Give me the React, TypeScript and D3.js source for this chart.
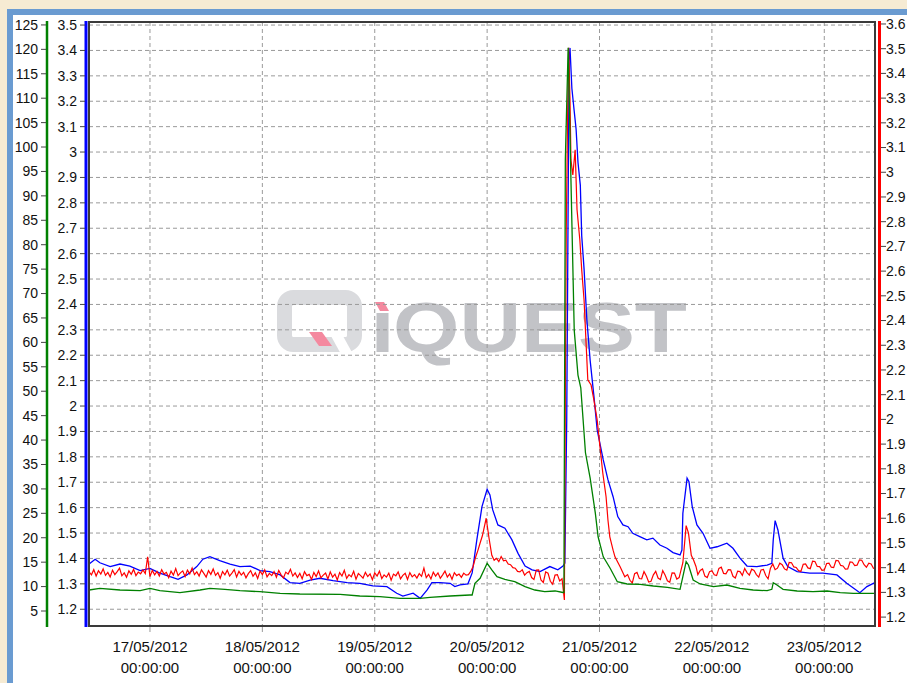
import React from "react";
import * as d3 from "d3";

// time is in hours from 17/05/2012 00:00
const blueSeries: [number, number][] = [
  [-13, 1.378], [-11.7, 1.397], [-10.7, 1.383], [-8.5, 1.368], [-6.4, 1.378], [-4.3, 1.37],
  [-2.1, 1.352], [0, 1.361], [2.1, 1.342], [4.3, 1.328], [6, 1.318], [7.9, 1.335],
  [10, 1.368], [11.3, 1.397], [12.8, 1.407], [14.9, 1.391], [17.1, 1.378], [19.2, 1.368],
  [21.4, 1.37], [23.5, 1.352], [25.6, 1.348], [27.8, 1.335], [29.9, 1.305], [32, 1.302],
  [34.2, 1.315], [36.3, 1.322], [39.1, 1.313], [42.1, 1.305], [44.8, 1.302], [47.6, 1.292],
  [50.6, 1.289], [52.7, 1.263], [54, 1.252], [56.2, 1.263], [57.7, 1.243], [59.2, 1.276],
  [60.2, 1.305], [61.9, 1.305], [64.1, 1.302], [65.1, 1.289], [66.2, 1.296], [67.9, 1.3],
  [68.8, 1.343], [69, 1.368], [69.8, 1.473], [70.9, 1.604], [72, 1.672], [72.6, 1.65],
  [73.2, 1.591], [74.3, 1.532], [75.8, 1.519], [77.3, 1.473], [78.6, 1.42], [80.1, 1.37],
  [81.6, 1.355], [83.3, 1.348], [85.4, 1.368], [87.1, 1.355], [88.2, 1.37], [88.6, 1.382],
  [89, 1.945], [89.5, 3.36], [89.7, 3.41], [90.1, 3.25], [90.6, 3.16], [91, 3.09],
  [91.4, 2.96], [91.9, 2.87], [92.2, 2.67], [92.7, 2.54], [93.3, 2.34], [94, 2.18],
  [94.8, 2.04], [95.5, 1.906], [96.8, 1.788], [97.8, 1.71], [98.9, 1.643], [99.9, 1.565],
  [101, 1.532], [102.1, 1.525], [103.1, 1.499], [104.6, 1.486], [106.1, 1.473], [107.4, 1.48],
  [108.9, 1.453], [110.4, 1.44], [111.7, 1.423], [113.2, 1.414], [113.6, 1.433], [113.8, 1.578],
  [114.7, 1.716], [115.1, 1.702], [115.8, 1.604], [116.8, 1.532], [118.1, 1.499], [119.6, 1.44],
  [121.1, 1.446], [123.2, 1.46], [124.5, 1.44], [126, 1.401], [127.5, 1.37], [129.6, 1.368],
  [131.8, 1.374], [132.8, 1.381], [133.1, 1.473], [133.5, 1.549], [134.1, 1.512], [135.2, 1.401],
  [136.2, 1.368], [138.2, 1.348], [140.9, 1.342], [143.7, 1.342], [146.7, 1.335], [148.8, 1.302],
  [151.6, 1.265], [153.1, 1.289], [154.8, 1.305],
];

const greenSeries: [number, number][] = [
  [-13, 9.3], [-10.7, 9.65], [-6.4, 9.3], [-2.1, 9.16], [0, 9.65], [2.1, 9.16],
  [6.4, 8.75], [10.7, 9.3], [12.8, 9.65], [16, 9.44], [19.2, 9.16], [23.5, 8.95],
  [27.8, 8.62], [32, 8.48], [40.6, 8.42], [44.8, 8.07], [49.1, 7.93], [53.4, 7.6],
  [57.7, 7.6], [59.8, 7.81], [64.1, 8.07], [68.3, 8.28], [68.8, 8.28], [69.4, 10.67],
  [70.5, 11.7], [72, 14.77], [73, 13.4], [74.1, 12.02], [75.8, 11.49], [77.9, 11],
  [80.1, 9.98], [82.2, 9.3], [84.3, 8.95], [86.5, 9.1], [88.2, 8.79], [88.4, 8.79],
  [88.7, 97.4], [89.3, 120.3], [89.9, 93.3], [90.6, 62.5], [91.4, 53.3], [92, 50.7],
  [92.5, 44.1], [93, 37.4], [94, 32.2], [95.1, 25.1], [95.7, 20.2], [96.8, 16.1],
  [98.3, 13.7], [99.8, 11], [101.9, 10.53], [104.7, 10.47], [107.5, 10.12], [110.5, 9.85],
  [113.2, 9.44], [113.8, 12.02], [114.5, 15.1], [115, 14.42], [116, 11.35], [117.5, 10.53],
  [120.3, 9.98], [123.2, 10.32], [126, 9.65], [128.8, 9.3], [131.8, 9.16], [132.8, 9.44],
  [133.1, 10.8], [133.9, 10.32], [135.2, 9.44], [138.2, 9.1], [141.6, 8.95], [144.6, 9.1],
  [147.4, 8.75], [150.2, 8.62], [154.8, 8.62],
];

// red is sampled every half hour on its quiet stretches
const redStep = 0.5;
const redEarlyStart = -13;
const redEarly = [
  1.383, 1.371, 1.392, 1.366, 1.388, 1.374, 1.395, 1.369, 1.381, 1.362,
  1.39, 1.372, 1.384, 1.398, 1.367, 1.379, 1.361, 1.387, 1.373, 1.393,
  1.368, 1.382, 1.375, 1.391, 1.376, 1.444, 1.364, 1.389, 1.371, 1.385,
  1.366, 1.392, 1.374, 1.381, 1.36, 1.386, 1.37, 1.396, 1.368, 1.379,
  1.387, 1.364, 1.39, 1.375, 1.399, 1.372, 1.383, 1.366, 1.391, 1.377,
  1.362, 1.388, 1.373, 1.395, 1.369, 1.38, 1.357, 1.384, 1.371, 1.39,
  1.366, 1.378, 1.392, 1.362, 1.385, 1.37, 1.381, 1.359, 1.376, 1.388,
  1.365, 1.379, 1.356, 1.386, 1.372, 1.391, 1.363, 1.377, 1.368, 1.384,
  1.361, 1.389, 1.371, 1.358, 1.382, 1.374, 1.393, 1.366, 1.379, 1.36,
  1.377, 1.355, 1.384, 1.368, 1.373, 1.352, 1.381, 1.364, 1.387, 1.359,
  1.37, 1.378, 1.354, 1.383, 1.362, 1.374, 1.35, 1.38, 1.366, 1.389,
  1.357, 1.372, 1.363, 1.385, 1.353, 1.376, 1.368, 1.358, 1.381, 1.364,
  1.375, 1.351, 1.379, 1.366, 1.386, 1.356, 1.371, 1.362, 1.378, 1.349,
  1.374, 1.367, 1.383, 1.355, 1.369, 1.377, 1.352, 1.38, 1.363, 1.372,
  1.358, 1.376, 1.365, 1.398, 1.36, 1.373, 1.354, 1.382, 1.366, 1.379,
  1.357, 1.371, 1.386, 1.362, 1.375, 1.353, 1.38, 1.368, 1.374, 1.361,
  1.378, 1.37,
];
const redPeaks: [number, number][] = [
  [68, 1.372], [68.5, 1.385], [69, 1.405], [69.5, 1.44], [70, 1.468], [70.5, 1.5], [71, 1.53],
  [71.8, 1.6], [72.4, 1.52], [73, 1.45], [73.5, 1.43], [74, 1.438], [74.5, 1.425], [75, 1.445],
  [75.5, 1.428], [76, 1.43], [76.5, 1.415], [77, 1.412], [77.5, 1.4], [78, 1.398], [78.5, 1.385],
  [79, 1.383], [79.5, 1.392], [80, 1.37], [80.5, 1.38], [81, 1.385], [81.5, 1.36], [82, 1.352],
  [82.5, 1.39], [83, 1.391], [83.5, 1.35], [84, 1.34], [84.5, 1.383], [85, 1.378], [85.5, 1.345],
  [86, 1.333], [86.5, 1.37], [87, 1.372], [87.5, 1.346], [88, 1.355], [88.5, 1.269], [88.7, 2.079],
  [88.9, 2.767], [89.2, 3.253], [89.4, 3.504], [89.7, 3.293], [89.9, 3.05], [90.3, 2.989],
  [90.8, 3.091], [91.2, 2.848], [91.8, 2.726], [92.2, 2.605], [92.7, 2.483], [93.1, 2.321],
  [93.5, 2.16], [94.2, 2.139], [94.8, 2.079], [95.5, 1.998], [96.1, 1.889], [96.7, 1.783],
  [97.4, 1.687], [97.8, 1.593], [98.2, 1.525], [98.9, 1.471], [99.3, 1.444], [100.4, 1.404],
  [101.4, 1.363],
];
const redMidStart = 102;
const redMid = [
  1.372, 1.349, 1.338, 1.376, 1.381, 1.356, 1.355, 1.384, 1.366, 1.342, 1.345, 1.371,
  1.385, 1.358, 1.352, 1.388, 1.37, 1.347, 1.341, 1.379, 1.378, 1.354, 1.36,
];
const redPeak22: [number, number][] = [
  [113.8, 1.42], [114.5, 1.57], [115, 1.54], [115.6, 1.45], [116.1, 1.43], [116.6, 1.405],
];
const redLateStart = 117;
const redLate = [
  1.372, 1.389, 1.395, 1.366, 1.36, 1.384, 1.388, 1.371, 1.368, 1.397,
  1.402, 1.377, 1.375, 1.392, 1.391, 1.365, 1.358, 1.386, 1.384, 1.369,
  1.397, 1.38, 1.37, 1.394, 1.389, 1.372, 1.362, 1.391, 1.393, 1.368,
  1.355, 1.398, 1.415, 1.392, 1.398, 1.418, 1.412, 1.395, 1.39, 1.421,
  1.42, 1.403, 1.401, 1.388, 1.385, 1.414, 1.415, 1.399, 1.396, 1.426,
  1.425, 1.405, 1.404, 1.389, 1.391, 1.417, 1.418, 1.402, 1.4, 1.429,
  1.428, 1.409, 1.407, 1.394, 1.395, 1.423, 1.422, 1.408, 1.41, 1.431,
  1.43, 1.412, 1.402, 1.418, 1.415, 1.398, 1.395,
];

const greenTicks = d3.range(5, 126, 5);
const blueTicks = d3.range(12, 36).map((d) => d / 10);
const redTicks = d3.range(12, 37).map((d) => d / 10);
const dayLabels = ["17/05/2012", "18/05/2012", "19/05/2012", "20/05/2012", "21/05/2012", "22/05/2012", "23/05/2012"];
const timeLabel = "00:00:00";

const W = 907;
const H = 683;
const left = 89, right = 875, top = 22, bottom = 626;
const font = "'Liberation Sans', Arial, sans-serif";

const t0 = new Date(2012, 4, 17).getTime();
const toDate = (h: number) => new Date(t0 + h * 3600e3);

const regular = (start: number, vals: number[]): [number, number][] =>
  vals.map((v, i) => [start + i * redStep, v]);

export default function App() {
  const x = d3.scaleTime().domain([toDate(-13.02), toDate(154.83)]).range([left, right]);
  const yBlue = d3.scaleLinear().domain([1.134, 3.512]).range([bottom, top]);
  const yGreen = d3.scaleLinear().domain([1.93, 125.6]).range([bottom, top]);
  const yRed = d3.scaleLinear().domain([1.164, 3.608]).range([bottom, top]);
  const days = d3.timeDay.range(toDate(0), toDate(145));
  const fmt = (v: number) => String(+v.toFixed(1));

  const redSeries = [
    ...regular(redEarlyStart, redEarly),
    ...redPeaks,
    ...regular(redMidStart, redMid),
    ...redPeak22,
    ...regular(redLateStart, redLate),
  ];

  const mk = (y: d3.ScaleLinear<number, number>) =>
    d3.line<[number, number]>().x((d) => x(toDate(d[0]))).y((d) => y(d[1]));

  return (
    <svg width={W} height={H} style={{ position: "absolute", left: 0, top: 0 }} fontFamily={font}>
      <rect width={W} height={H} fill="#f6ebd3" />
      <rect x={7} y={9} width={W} height={H} fill="#6a9bd1" />
      <rect x={13} y={15} width={W} height={H} fill="#ffffff" />

      {/* watermark */}
      <g>
        <rect x={284.5} y={297.5} width={70} height={47} rx={9} fill="none" stroke="#dadbde" strokeWidth={15} />
        <polygon points="331,336 343,336 354,356 342,356" fill="#ffffff" />
        <polygon points="309,332 322,332 332,346 319,346" fill="#f4899f" />
        <polygon points="375,302 384,302 389,311 380,311" fill="#f4899f" />
        <rect x={376.5} y={313} width={12} height={39} fill="#c2c3c7" />
        <text x={393} y={352} fontSize={70} fontWeight="bold" fill="#c2c3c7" textLength={294} lengthAdjust="spacingAndGlyphs">
          QUEST
        </text>
      </g>

      {/* grid */}
      {blueTicks.map((t) => (
        <line key={"h" + t} x1={left} x2={right} y1={yBlue(t)} y2={yBlue(t)} stroke="#9a9a9a" strokeDasharray="4,3" />
      ))}
      {days.map((d, i) => (
        <g key={"v" + i}>
          <line x1={x(d)} x2={x(d)} y1={top} y2={bottom} stroke="#9a9a9a" strokeDasharray="4,3" />
          <line x1={x(d)} x2={x(d)} y1={bottom} y2={bottom + 6} stroke="#9a9a9a" />
          <text x={x(d)} y={652} fontSize={15} textAnchor="middle" fill="#111">{dayLabels[i]}</text>
          <text x={x(d)} y={673} fontSize={15} textAnchor="middle" fill="#111">{timeLabel}</text>
        </g>
      ))}

      {/* series */}
      <path d={mk(yBlue)(blueSeries) ?? ""} fill="none" stroke="#0000ff" strokeWidth={1.3} />
      <path d={mk(yRed)(redSeries) ?? ""} fill="none" stroke="#ff0000" strokeWidth={1.2} />
      <path d={mk(yGreen)(greenSeries) ?? ""} fill="none" stroke="#008000" strokeWidth={1.3} />

      <rect x={left} y={top} width={right - left} height={bottom - top} fill="none" stroke="#3a3a3a" strokeWidth={2} />

      {/* green axis */}
      <line x1={47} x2={47} y1={21} y2={627} stroke="#008000" strokeWidth={2.5} />
      {greenTicks.map((t) => (
        <g key={"g" + t}>
          <line x1={41} x2={46} y1={yGreen(t)} y2={yGreen(t)} stroke="#444" />
          <text x={38} y={yGreen(t)} dy="0.35em" fontSize={14} textAnchor="end" fill="#111">{t}</text>
        </g>
      ))}

      {/* blue axis */}
      <line x1={86} x2={86} y1={21} y2={627} stroke="#0000ff" strokeWidth={3} />
      {blueTicks.map((t) => (
        <g key={"b" + t}>
          <line x1={80} x2={85} y1={yBlue(t)} y2={yBlue(t)} stroke="#444" />
          <text x={77} y={yBlue(t)} dy="0.35em" fontSize={14} textAnchor="end" fill="#111">{fmt(t)}</text>
        </g>
      ))}

      {/* red axis */}
      <line x1={879.5} x2={879.5} y1={21} y2={627} stroke="#ff0000" strokeWidth={3} />
      {redTicks.map((t) => (
        <g key={"r" + t}>
          <line x1={881} x2={886} y1={yRed(t)} y2={yRed(t)} stroke="#444" />
          <text x={886} y={yRed(t)} dy="0.35em" fontSize={14} textAnchor="start" fill="#111">{fmt(t)}</text>
        </g>
      ))}
    </svg>
  );
}
